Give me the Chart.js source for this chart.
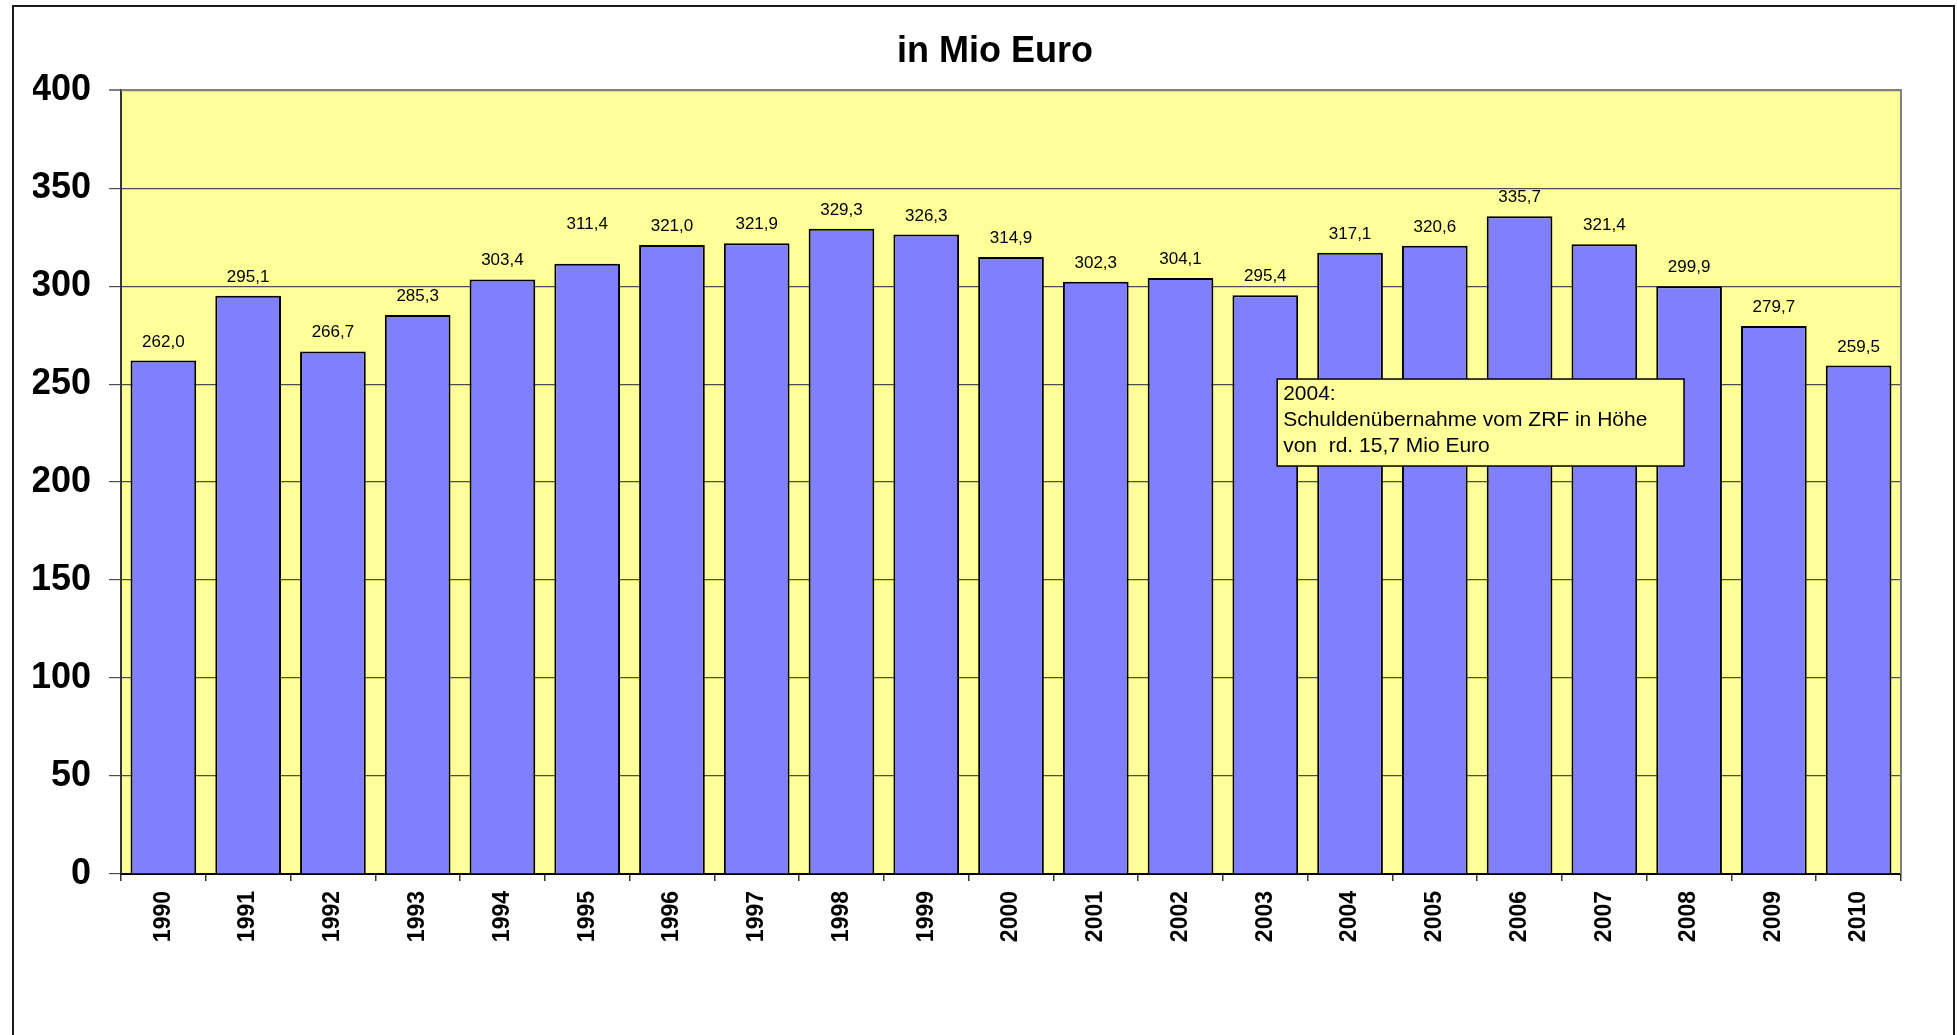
<!DOCTYPE html>
<html>
<head>
<meta charset="utf-8">
<script src="https://cdn.jsdelivr.net/npm/chart.js@4.4.1/dist/chart.umd.min.js"></script>
<style>
html,body{margin:0;padding:0;background:#fff;}
canvas{display:block;}
</style>
</head>
<body>
<canvas id="c" width="1957" height="1035"></canvas>
<script>
// ---- data ----
const years = ['1990','1991','1992','1993','1994','1995','1996','1997','1998','1999','2000',
               '2001','2002','2003','2004','2005','2006','2007','2008','2009','2010'];
const values = [262.0,295.1,266.7,285.3,303.4,311.4,321.0,321.9,329.3,326.3,314.9,
                302.3,304.1,295.4,317.1,320.6,335.7,321.4,299.9,279.7,259.5];
const yTicks = [0,50,100,150,200,250,300,350,400];
const titleText = 'in Mio Euro';
const noteLines = ['2004:', 'Schuldenübernahme vom ZRF in Höhe', 'von  rd. 15,7 Mio Euro'];

// ---- styling ----
const FONT = '"Liberation Sans", Arial, Helvetica, sans-serif';
const noteBox = {xFrom: 13.14, xTo: 17.94, yTop: 252.6, yBottom: 208.2};

const framePlugin = {
  id: 'frame',
  beforeDraw(chart) {
    const ctx = chart.ctx, a = chart.chartArea;
    ctx.save();
    ctx.fillStyle = '#ffffff';
    ctx.fillRect(0, 0, chart.width, chart.height);
    ctx.fillStyle = '#FFFF99';
    ctx.fillRect(a.left, a.top, a.right - a.left, a.bottom - a.top);
    ctx.strokeStyle = '#1a1a1a';
    ctx.lineWidth = 2;
    ctx.strokeRect(13, 6, 1941, 1200);
    ctx.restore();
  },
  beforeDatasetsDraw(chart) {
    const ctx = chart.ctx, a = chart.chartArea;
    ctx.save();
    ctx.strokeStyle = '#808080';
    ctx.lineWidth = 2;
    ctx.beginPath();
    ctx.moveTo(a.left, a.top);
    ctx.lineTo(a.right, a.top);
    ctx.lineTo(a.right, a.bottom);
    ctx.stroke();
    ctx.restore();
  }
};

const labelPlugin = {
  id: 'valueLabels',
  afterDatasetsDraw(chart) {
    const ctx = chart.ctx;
    const meta = chart.getDatasetMeta(0);
    ctx.save();
    ctx.font = '17px ' + FONT;
    ctx.fillStyle = '#000';
    ctx.textAlign = 'center';
    ctx.textBaseline = 'alphabetic';
    meta.data.forEach((bar, i) => {
      const v = chart.data.datasets[0].data[i];
      const lift = (i === 5) ? 35 : 14;
      ctx.fillText(v.toFixed(1).replace('.', ','), bar.x, bar.y - lift);
    });
    ctx.restore();
  }
};

const notePlugin = {
  id: 'note',
  afterDatasetsDraw(chart) {
    const ctx = chart.ctx, xs = chart.scales.x, ys = chart.scales.y;
    const l = xs.getPixelForValue(noteBox.xFrom), r = xs.getPixelForValue(noteBox.xTo);
    const t = ys.getPixelForValue(noteBox.yTop), b = ys.getPixelForValue(noteBox.yBottom);
    ctx.save();
    ctx.fillStyle = '#FFFF99';
    ctx.fillRect(l, t, r - l, b - t);
    ctx.strokeStyle = '#000';
    ctx.lineWidth = 1.5;
    ctx.strokeRect(l, t, r - l, b - t);
    ctx.fillStyle = '#000';
    ctx.font = '21px ' + FONT;
    ctx.textAlign = 'left';
    ctx.textBaseline = 'alphabetic';
    noteLines.forEach((s, i) => ctx.fillText(s, l + 6, t + 20.5 + i * 26.2));
    ctx.restore();
  }
};

new Chart(document.getElementById('c'), {
  type: 'bar',
  data: {
    labels: years,
    datasets: [{
      data: values,
      backgroundColor: '#8080FF',
      borderColor: '#000000',
      borderWidth: 2,
      borderSkipped: 'start',
      barPercentage: 0.775,
      categoryPercentage: 1.0
    }]
  },
  options: {
    responsive: false,
    animation: false,
    devicePixelRatio: 1,
    layout: {padding: {left: 33, right: 0, top: 0, bottom: 0}},
    plugins: {
      legend: {display: false},
      tooltip: {enabled: false},
      title: {
        display: true,
        text: titleText,
        color: '#000',
        font: {family: FONT, size: 36, weight: 'bold'},
        padding: {top: 30, bottom: 17}
      }
    },
    scales: {
      x: {
        grid: {display: true, drawOnChartArea: false, offset: true, tickLength: 7, color: '#333', lineWidth: 1.5},
        border: {display: true, color: '#000', width: 2},
        ticks: {
          color: '#000', font: {family: FONT, size: 23, weight: 'bold'},
          minRotation: 90, maxRotation: 90, autoSkip: false, padding: 10
        },
        afterFit(s) { s.height = 161; }
      },
      y: {
        min: 0, max: 400,
        afterBuildTicks(s) { s.ticks = yTicks.map(v => ({value: v})); },
        grid: {
          color: c => (c.tick && c.tick.value === 400) ? '#808080' : '#4d4d4d',
          lineWidth: c => (c.tick && c.tick.value === 400) ? 2 : 1.2,
          tickLength: 12
        },
        border: {display: true, color: '#333', width: 2},
        ticks: {color: '#000', font: {family: FONT, size: 36, weight: 'bold'}, padding: 18},
        afterFit(s) { s.width = 88; }
      },
      y2: {
        type: 'linear', position: 'right', display: true,
        grid: {display: false, drawTicks: false},
        border: {display: false},
        ticks: {display: false},
        afterFit(s) { s.width = 56; }
      }
    }
  },
  plugins: [framePlugin, labelPlugin, notePlugin]
});
</script>
</body>
</html>
